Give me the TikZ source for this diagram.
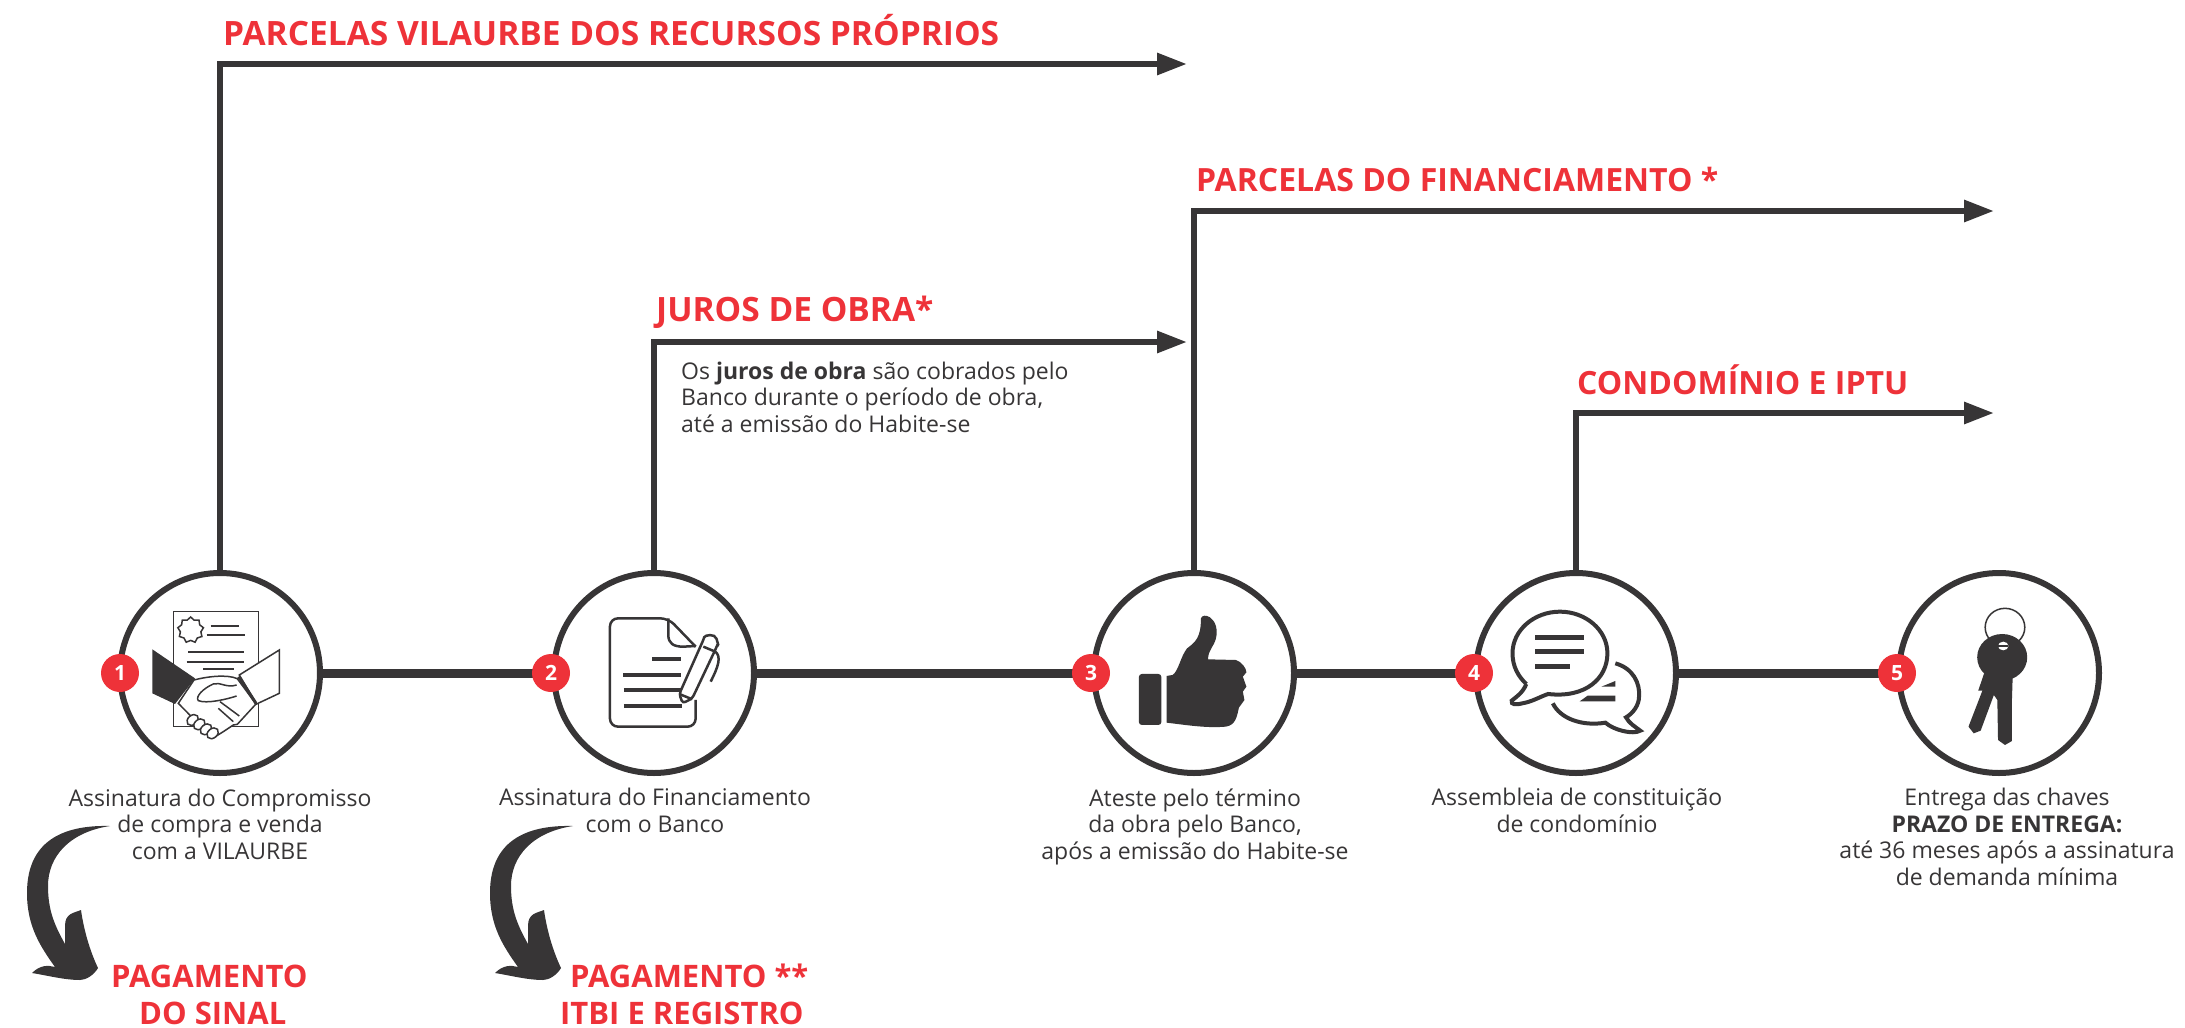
\documentclass[tikz,border=0pt]{standalone}
\usepackage{fontspec}
\setmainfont{Open Sans}
\usetikzlibrary{arrows.meta,shapes.geometric}
\definecolor{inkdark}{HTML}{373536}
\definecolor{accentred}{HTML}{EE3239}
\tikzset{
  stepcircle/.style={circle,draw=inkdark,line width=6pt,fill=white,minimum size=200pt,inner sep=0pt},
  numbadge/.style={circle,fill=accentred,text=white,minimum size=38pt,inner sep=0pt,font=\fontsize{21}{21}\selectfont\bfseries},
  timeline/.style={draw=inkdark,line width=9pt},
  flowline/.style={draw=inkdark,line width=6pt,-{Triangle[length=30pt,width=21pt]}},
  steptext/.style={text=inkdark,align=center,anchor=base,inner sep=0pt,font=\fontsize{23}{26.4}\selectfont},
  redtitle/.style={text=accentred,anchor=base west,inner sep=0pt,font=\fontsize{32}{32}\selectfont\bfseries},
  redwide/.style={redtitle,font=\fontsize{33.5}{33.5}\selectfont\bfseries},
  redsmall/.style={redtitle,font=\fontsize{31}{31}\selectfont\bfseries},
  iconline/.style={draw=inkdark,line width=1.5pt},
  iconbar/.style={draw=inkdark,line width=4pt},
  bendarrow/.pic={
    \fill[inkdark] (0,0) .. controls (-40,-1) and (-83,10) .. (-83,67)
      .. controls (-83,100) and (-70,120) .. (-55,141)
      .. controls (-62,139) and (-70,139) .. (-78,147)
      .. controls (-60,150) and (-45,154) .. (-30,154)
      .. controls (-24,154) and (-16,149) .. (-12,142)
      .. controls (-20,125) and (-26,105) .. (-29,84)
      .. controls (-36,87) and (-45,87) .. (-45,100)
      -- (-45,118)
      .. controls (-55,100) and (-62,85) .. (-62,60)
      .. controls (-62,30) and (-40,6) .. (0,0) -- cycle;
  }
}
\begin{document}
\begin{tikzpicture}[x=1pt,y=-1pt]
  \useasboundingbox (0,0) rectangle (2185,1028);

  % steps
  \node[stepcircle] (circ1) at (220,673) {};
  \node[stepcircle] (circ2) at (654,673) {};
  \node[stepcircle] (circ3) at (1194,673) {};
  \node[stepcircle] (circ4) at (1576,673) {};
  \node[stepcircle] (circ5) at (1999,673) {};

  \coordinate (tip1) at (1187,64);
  \coordinate (tip2) at (1187,342);
  \coordinate (tip3) at (1994,211);
  \coordinate (tip4) at (1994,413);

  \draw[flowline] (circ1.north) |- (tip1);
  \draw[flowline] (circ2.north) |- (tip2);
  \draw[flowline] (circ3.north) |- (tip3);
  \draw[flowline] (circ4.north) |- (tip4);

  \draw[timeline] (circ1) -- (circ2);
  \draw[timeline] (circ2) -- (circ3);
  \draw[timeline] (circ3) -- (circ4);
  \draw[timeline] (circ4) -- (circ5);

  \node[numbadge] (num1) at (120,673) {1};
  \node[numbadge] (num2) at (551,673) {2};
  \node[numbadge] (num3) at (1091,673) {3};
  \node[numbadge] (num4) at (1474,673) {4};
  \node[numbadge] (num5) at (1897,673) {5};

  % contract and handshake
  \begin{scope}[shift={(0,540)},x=0.3333pt,y=-0.3333pt]
    \draw[iconline] (520,215) rectangle (775,560);
    \node[star,star points=9,star point ratio=1.25,iconline,fill=white,minimum size=26pt,inner sep=0pt] (seal) at (572,270) {};
    \draw[iconline,line width=2pt] (632,258) -- (716,258);
    \draw[iconline,line width=2pt] (620,285) -- (735,285);
    \draw[iconline,line width=2pt] (565,335) -- (732,335);
    \draw[iconline,line width=2pt] (560,365) -- (732,365);
    \draw[iconline,line width=2pt] (610,388) -- (702,388);
    \fill[inkdark] (457,328) -- (585,415) -- (525,492) -- (457,460) -- cycle;
    \draw[iconline,fill=white] (838,330) -- (718,405) -- (770,492) -- (838,460) -- cycle;
    \draw[iconline,fill=white] (535,490) -- (582,420) .. controls (620,410) and (680,402) .. (712,416)
      -- (768,492) -- (712,553) -- (700,555) -- (670,575) -- (638,595) -- cycle;
    \draw[iconline,line width=3pt] (716,410) -- (768,490);
    \foreach \fx/\fy in {578/540,598/553,618/568,638/580}
      \draw[iconline,fill=white,rotate around={40:(\fx,\fy)}] (\fx,\fy) ellipse [x radius=19,y radius=14];
    \draw[iconline] (710,435) .. controls (680,445) and (660,425) .. (640,432)
      .. controls (610,445) and (585,470) .. (595,482) .. controls (620,492) and (680,478) .. (710,468);
    \draw[iconline] (660,485) -- (718,528);
    \draw[iconline] (655,505) -- (700,545);
  \end{scope}

  % document and pen
  \begin{scope}[shift={(440,540)},x=0.3333pt,y=-0.3333pt]
    \draw[iconline,line width=2.5pt,rounded corners=8pt] (767,320) -- (685,235) -- (510,235) -- (510,560) -- (767,560) -- (767,480);
    \draw[iconline,line width=2.5pt] (685,235) -- (685,285) .. controls (685,310) and (700,320) .. (730,320) -- (767,318);
    \draw[iconbar] (637,357) -- (722,357);
    \draw[iconbar] (550,405) -- (722,405);
    \draw[iconbar] (552,450) -- (725,450);
    \draw[iconbar] (552,497) -- (725,497);
    \draw[iconline,line width=2.5pt,fill=white,rounded corners=3pt] (718,462) -- (790,300) .. controls (795,285) and (825,280) .. (832,305) .. controls (835,315) and (830,320) .. (828,325) -- (757,475) -- (728,490) -- cycle;
    \draw[iconline,line width=2.5pt] (718,462) -- (757,478);
    \draw[iconline,line width=2.5pt] (790,320) -- (826,335);
    \draw[iconline,line width=2.5pt] (826,335) .. controls (845,350) and (835,380) .. (812,425);
  \end{scope}

  % thumb up and speech bubbles
  \begin{scope}[shift={(1040,540)},x=0.3954pt,y=-0.3333pt]
    \fill[inkdark,rounded corners=3pt] (250,402) rectangle (307,555);
    \fill[inkdark] (320,408) -- (335,405) .. controls (350,395) and (355,350) .. (372,325)
      .. controls (395,305) and (407,290) .. (407,235) .. controls (410,225) and (420,225) .. (430,232)
      .. controls (445,245) and (450,270) .. (445,295) .. controls (440,320) and (425,330) .. (425,358)
      -- (495,360) .. controls (510,365) and (522,385) .. (522,397) -- (513,410) -- (522,440) -- (513,455)
      -- (517,480) -- (503,503) .. controls (498,530) and (495,555) .. (470,560)
      .. controls (420,565) and (370,555) .. (320,548) -- cycle;
    \draw[iconline,line width=4pt] (1230,432) .. controls (1220,460) and (1205,470) .. (1193,482)
      .. controls (1190,495) and (1205,495) .. (1220,490) .. controls (1245,485) and (1265,470) .. (1285,462)
      .. controls (1380,475) and (1435,415) .. (1435,340) .. controls (1435,270) and (1380,215) .. (1315,215)
      .. controls (1250,215) and (1195,270) .. (1195,340) .. controls (1195,380) and (1210,410) .. (1230,432);
    \draw[iconbar,line width=5pt] (1252,294) -- (1376,294);
    \draw[iconbar,line width=5pt] (1252,336) -- (1376,336);
    \draw[iconbar,line width=5pt] (1252,380) -- (1340,380);
    \draw[iconline,line width=4pt] (1455,370) .. controls (1500,385) and (1518,430) .. (1515,470)
      .. controls (1515,495) and (1500,520) .. (1482,532) .. controls (1490,550) and (1505,560) .. (1518,572)
      .. controls (1500,585) and (1450,570) .. (1430,548) .. controls (1370,560) and (1315,535) .. (1297,490);
    \fill[inkdark] (1455,423) -- (1455,440) -- (1420,440) -- cycle;
    \fill[inkdark] (1455,467) -- (1455,484) -- (1365,484) -- (1385,467) -- cycle;
  \end{scope}

  % keys
  \begin{scope}[shift={(1640,540)},x=0.3476pt,y=-0.3333pt]
    \draw[iconline] (1050,262) ellipse [x radius=57,y radius=57];
    \fill[inkdark] (1042,352) ellipse [x radius=72,y radius=70];
    \fill[inkdark] (990,400) -- (973,452) -- (985,452) -- (945,560) -- (960,580) -- (980,572) -- (1018,465)
      -- (1028,480) -- (1030,600) -- (1050,615) -- (1070,603) -- (1070,480) -- (1072,415) -- cycle;
    \fill[white] (1045,318) ellipse [x radius=15,y radius=13];
    \fill[inkdark] (1030,315) rectangle (1060,321);
  \end{scope}

  \pic (bend1) at (110,826) {bendarrow};
  \pic (bend2) at (573,826) {bendarrow};

  % captions
  \node[steptext] (cap1) at (220,859) {Assinatura do Compromisso\\de compra e venda\\com a VILAURBE};
  \node[steptext] (cap2) at (655,832) {Assinatura do Financiamento\\com o Banco};
  \node[steptext] (cap3) at (1195,859) {Ateste pelo término\\da obra pelo Banco,\\após a emissão do Habite-se};
  \node[steptext] (cap4) at (1577,832) {Assembleia de constituição\\de condomínio};
  \node[steptext] (cap5) at (2007,885) {Entrega das chaves\\\textbf{PRAZO DE ENTREGA:}\\até 36 meses após a assinatura\\de demanda mínima};
  \node[steptext,align=left,anchor=base west] (jurostext) at (681,432) {Os \textbf{juros de obra} são cobrados pelo\\Banco durante o período de obra,\\até a emissão do Habite-se};

  % titles
  \node[redwide] (titlerec) at (223,45) {PARCELAS VILAURBE DOS RECURSOS PRÓPRIOS};
  \node[redtitle] (titlefin) at (1196,191) {PARCELAS DO FINANCIAMENTO *};
  \node[redwide] (titlejur) at (656,321) {JUROS DE OBRA*};
  \node[redtitle] (titlecon) at (1577,394) {CONDOMÍNIO E IPTU};
  \node[redsmall] (titlepag) at (111,987) {PAGAMENTO};
  \node[redsmall] (titlesin) at (139,1024) {DO SINAL};
  \node[redsmall] (titleitb) at (570,987) {PAGAMENTO **};
  \node[redsmall] (titlereg) at (560,1024) {ITBI E REGISTRO};
\end{tikzpicture}
\end{document}
